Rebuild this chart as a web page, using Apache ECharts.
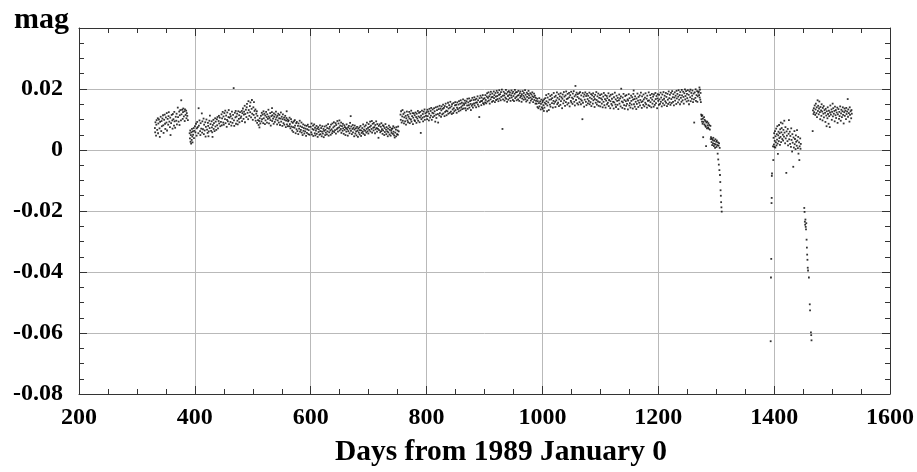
<!DOCTYPE html>
<html>
<head>
<meta charset="utf-8">
<script src="https://cdn.jsdelivr.net/npm/echarts@6/dist/echarts.min.js"></script>
<style>
html,body{margin:0;padding:0;background:#fff;}
#chart{width:917px;height:472px;}
</style>
</head>
<body>
<div id="chart"></div>
<script>
// Days from 1989 January 0 vs magnitude
const run1 = [[331,.0072],[331.5,.0058],[332,.0091],[333,.0047],[333.5,.0083],[334,.0098],[335,.0066],[336,.0104],[336.5,.0055],[337,.0087],[338,.0100],[339,.0071],[339.5,.0043],[340,.0092],[341,.0109],[342,.0062],[342.5,.0095],[343,.0078],[344,.0103],[345,.0114],[345.5,.0081],[346,.0056],[347,.0099],[348,.0116],[348.5,.0086],[349,.0069],[350,.0107],[351,.0090],[351.5,.0121],[352,.0064],[353,.0102],[354,.0083],[354.5,.0111],[355,.0124],[356,.0093],[357,.0075],[357.5,.0106],[358,.0049],[359,.0088],[360,.0115],[361,.0097],[361.5,.0070],[362,.0118],[363,.0101],[364,.0080],[364.5,.0125],[365,.0094],[366,.0073],[367,.0109],[368,.0096],[368.5,.0119],[369,.0084],[370.5,.0139],[371,.0108],[372,.0093],[373,.0126],[373.5,.0082],[374,.0114],[375,.0131],[376,.0097],[376.5,.0163],[377,.0117],[378,.0132],[379,.0102],[379.5,.0124],[380,.0136],[381,.0110],[382,.0127],[382.5,.0095],[383,.0133],[384,.0115],[385,.0129],[385.5,.0104],[386,.0121],[387,.0112],[388,.0098]];

const run2 = [[391,.0055],[391.5,.0038],[392,.0064],[392.5,.0027],[393,.0049],[393.5,.0021],[394,.0058],[394.5,.0033],[395,.0069],[395.5,.0044],[396,.0025],[396.5,.0061],[397,.0050],[398,.0072],[398.5,.0039],[399,.0063],[400,.0078],
[401,.0058],[402,.0086],[403,.0047],[403.5,.0071],[404,.0092],[405,.0075],[406,.0055],[406.5,.0137],[407,.0080],[408,.0097],[409,.0062],[409.5,.0049],[410,.0088],[411,.0070],[412,.0120],[412.5,.0057],[413,.0094],[414,.0068],[415,.0103],[415.5,.0052],[416,.0083],[417,.0064],[418,.0091],[418.5,.0044],[419,.0076],[420,.0100],[421,.0067],[422,.0056],[422.5,.0089],[423,.0079],[423.5,.0045],[424,.0061],[425,.0096],[425.5,.0072],[426,.0113],[427,.0085],[428,.0063],[429,.0094],[429.5,.0074],[430,.0058],[430.5,.0043],[431,.0082],[432,.0099],[432.5,.0069],[433,.0088],[434,.0062],[435,.0104],[435.5,.0077],[436,.0093],[437,.0066],[438,.0101],[438.5,.0081],[439,.0108],[440,.0071],[441,.0095],[441.5,.0112],[442,.0087],[443,.0106],[444,.0078],
[445,.0092],[446,.0117],[446.5,.0081],[447,.0104],[448,.0125],[449,.0090],[449.5,.0110],[450,.0083],[451,.0121],[452,.0101],[452.5,.0129],[453,.0088],[454,.0113],[455,.0076],[455.5,.0099],[456,.0123],[457,.0094],[458,.0108],[458.5,.0131],[459,.0085],[460,.0106],[461,.0118],[461.5,.0092],[462,.0111],[463,.0080],[464,.0126],[464.5,.0103],[465,.0089],[466,.0115],[467,.0203],[467.5,.0097],[468,.0079],[469,.0122],[470,.0107],[470.5,.0128],[471,.0086],[472,.0110],[473,.0119],[473.5,.0096],[474,.0084],[475,.0127],[476,.0102],[476.5,.0114],[477,.0091],[478,.0124],[479,.0105],
[480,.0110],[481,.0128],[481.5,.0095],[482,.0121],[483,.0136],[484,.0102],[484.5,.0116],[485,.0126],[486,.0145],[486.5,.0091],[487,.0118],[488,.0132],[489,.0108],[489.5,.0140],[490,.0151],[491,.0122],[492,.0101],[492.5,.0160],[493,.0131],[494,.0112],[495,.0144],[495.5,.0124],[496,.0156],[497,.0107],[498,.0135],[498.5,.0164],[499,.0119],[500,.0099],[501,.0140],[501.5,.0115],[502,.0157],[503,.0128],[504,.0106],[504.5,.0133],[505,.0096],[506,.0119],[507,.0127],[507.5,.0089],[508,.0112],[509,.0098],[510,.0082],[511,.0095],[511.5,.0074],[512,.0104],[513,.0087],
[514,.0112],[515,.0094],[515.5,.0122],[516,.0101],[517,.0116],[518,.0088],[518.5,.0127],[519,.0104],[520,.0119],[521,.0085],[521.5,.0113],[522,.0097],[523,.0125],[524,.0108],[524.5,.0090],[525,.0117],[526,.0102],[527,.0132],[527.5,.0110],[528,.0087],[529,.0105],[530,.0121],[530.5,.0098],[531,.0080],[532,.0111],[533,.0124],[533.2,.0137],[533.5,.0095],[534,.0114],[535,.0103],[536,.0086],[536.5,.0120],[537,.0109],[538,.0092],[539,.0116],[539.5,.0100],[540,.0126],[541,.0107],[542,.0084],[542.5,.0112],[543,.0097],[544,.0119],[545,.0090],[545.5,.0104],[546,.0115],[547,.0082],[548,.0103],[548.5,.0123],[549,.0093],[550,.0109],[551,.0079],[551.5,.0101],[552,.0117],[553,.0088],[554,.0106],[554.5,.0083],[555,.0099],[556,.0112],[557,.0075],[557.5,.0096],[558,.0105],[558.5,.0127],[559,.0084],[560,.0100],[560.5,.0078],[561,.0094],
[562,.0097],[563,.0078],[563.5,.0106],[564,.0085],[565,.0071],[566,.0101],[566.5,.0077],[567,.0093],[568,.0064],[569,.0089],[569.5,.0075],[570,.0059],[571,.0094],[572,.0073],[572.5,.0098],[573,.0080],[574,.0055],[575,.0088],[575.5,.0068],[576,.0092],[577,.0062],[578,.0079],[578.5,.0052],[579,.0087],[580,.0070],[581,.0096],[581.5,.0060],[582,.0078],[583,.0066],[584,.0090],[584.5,.0057],[585,.0075],[586,.0049],[587,.0084],[587.5,.0063],[588,.0072],[589,.0054],[590,.0081],[590.5,.0061],[591,.0070],[592,.0046],[593,.0079],[593.5,.0056],[594,.0068],[595,.0083],[596,.0052],[596.5,.0065],[597,.0076],[598,.0050]];

const run3 = [[600,.0076],[601,.0058],[601.5,.0087],[602,.0051],[603,.0069],[604,.0080],[604.5,.0046],[605,.0066],[606,.0084],[607,.0055],[607.5,.0073],[608,.0048],[609,.0064],[610,.0079],[610.5,.0053],[611,.0070],[612,.0043],[613,.0075],[613.5,.0059],[614,.0068],[615,.0050],[616,.0081],[616.5,.0062],[617,.0052],[618,.0072],[619,.0045],[619.5,.0060],[620,.0078],[621,.0054],[622,.0069],[622.5,.0042],[623,.0063],[624,.0077],[625,.0049],[625.5,.0066],[626,.0057],[627,.0080],[628,.0051],[628.5,.0072],[629,.0061],[630,.0085],[631,.0047],[631.5,.0070],[632,.0058],[633,.0076],[634,.0064],[634.5,.0050],[635,.0083],[636,.0068],[637,.0055],[637.5,.0087],[638,.0062],[639,.0074],[640,.0091],[640.5,.0059],[641,.0078],[642,.0065],[643,.0088],[643.5,.0054],[644,.0082],[645,.0068],[646,.0095],[646.5,.0072],[647,.0060],[648,.0087],[649,.0074],[649.5,.0097],[650,.0064],[651,.0080],
[652,.0069],[652.5,.0090],[653,.0056],[654,.0078],[655,.0063],[655.5,.0086],[656,.0071],[657,.0053],[658,.0081],[658.5,.0066],[659,.0075],[660,.0049],[661,.0072],[661.5,.0060],[662,.0084],[663,.0068],[664,.0047],[664.5,.0074],[665,.0062],[666,.0079],[667,.0055],[667.5,.0070],[668,.0089],[669,.0111],[669.5,.0063],[670,.0077],[671,.0052],[672,.0069],[672.5,.0082],[673,.0058],[674,.0073],[675,.0045],[675.5,.0067],[676,.0080],[677,.0054],[678,.0071],[678.5,.0061],[679,.0048],[680,.0076],[681,.0063],[681.5,.0043],[682,.0070],[683,.0057],[684,.0074],[684.5,.0051],[685,.0065],[686,.0079],[687,.0046],[687.5,.0064],[688,.0056],[689,.0072],[690,.0060],[690.5,.0084],[691,.0053],[692,.0067],[693,.0077],[693.5,.0049],[694,.0063],[695,.0081],[696,.0057],[696.5,.0069],[697,.0090],[698,.0061],[699,.0073],[699.5,.0054],[700,.0085],[701,.0066],[702,.0076],[702.5,.0093],[703,.0061],[704,.0080],[705,.0069],[705.5,.0095],[706,.0057],[707,.0086],[708,.0073],[708.5,.0064],[709,.0089],[710,.0075],[711,.0055],[711.5,.0082],[712,.0068],[713,.0094],[714,.0072],[714.5,.0060],[715,.0085],[716,.0069],[717,.0040],[717.5,.0079],[718,.0065],[719,.0084],[720,.0058],
[721,.0076],[721.5,.0062],[722,.0088],[723,.0068],[724,.0053],[724.5,.0081],[725,.0064],[726,.0078],[727,.0049],[727.5,.0072],[728,.0059],[729,.0085],[730,.0067],[730.5,.0052],[731,.0075],[732,.0061],[733,.0045],[733.5,.0070],[734,.0058],[735,.0080],[736,.0051],[736.5,.0066],[737,.0074],[738,.0047],[739,.0063],[739.5,.0056],[740,.0069],[741,.0071],[742,.0053],[742.5,.0078],[743,.0060],[744,.0048],[744.5,.0073],[745,.0041],[746,.0057],[747,.0067],[747.5,.0045],[748,.0075],[749,.0052],[750,.0064],[750.5,.0050],[751,.0077],[752,.0061]];

const run4 = [[755,.0116],[755.5,.0099],[756,.0127],[757,.0090],[758,.0110],[758.5,.0131],[759,.0096],[760,.0118],[761,.0087],[761.5,.0107],[762,.0123],[763,.0094],[764,.0112],[764.5,.0083],[765,.0104],[766,.0126],[767,.0097],[767.5,.0115],[768,.0091],[769,.0109],[770,.0125],[770.5,.0103],[771,.0088],[772,.0119],[773,.0100],[773.5,.0129],[774,.0093],[775,.0111],[776,.0121],[776.5,.0085],[777,.0106],[778,.0120],[779,.0098],[779.5,.0114],
[780,.0095],[781,.0123],[782,.0108],[782.5,.0089],[783,.0119],[784,.0103],[785,.0128],[785.5,.0096],[786,.0110],[787,.0122],[788,.0091],[788.5,.0107],[789,.0125],[790,.0056],[790.5,.0113],[791,.0101],[792,.0129],[793,.0106],[793.5,.0118],[794,.0094],[795,.0126],[796,.0109],[796.5,.0133],[797,.0099],[798,.0120],[799,.0112],
[800,.0124],[801,.0101],[801.5,.0132],[802,.0111],[803,.0126],[804,.0097],[804.5,.0119],[805,.0135],[806,.0106],[807,.0128],[807.5,.0113],[808,.0138],[809,.0099],[810,.0122],[810.5,.0133],[811,.0108],[812,.0120],[813,.0137],[813.5,.0112],[814,.0127],[815,.0093],[816,.0140],[816.5,.0116],[817,.0105],[818,.0131],[819,.0142],[819.5,.0118],[820,.0090],[821,.0134],[822,.0113],[822.5,.0145],[823,.0121],[824,.0136],[825,.0109],[825.5,.0130],[826,.0143],[827,.0117],[828,.0135],[828.5,.0149],[829,.0120],[830,.0138],[831,.0111],[831.5,.0144],[832,.0125],[833,.0152],[834,.0129],[834.5,.0114],[835,.0141],[836,.0127],[837,.0155],[837.5,.0119],[838,.0136],[839,.0147],[840,.0122],[840.5,.0139],[841,.0158],[842,.0126],[843,.0143],[843.5,.0118],[844,.0150],[845,.0133],[846,.0121],[846.5,.0154],[847,.0137],[848,.0127],[849,.0146],[849.5,.0157],
[850,.0131],[851,.0148],[852,.0122],[852.5,.0139],[853,.0156],[854,.0134],[855,.0149],[855.5,.0127],[856,.0160],[857,.0138],[858,.0152],[858.5,.0130],[859,.0163],[860,.0141],[861,.0155],[861.5,.0134],[862,.0146],[863,.0166],[864,.0136],[864.5,.0153],[865,.0148],[866,.0162],[867,.0137],[867.5,.0154],[868,.0130],[869,.0160],[870,.0146],[870.5,.0168],[871,.0135],[872,.0156],[873,.0147],[873.5,.0169],[874,.0139],[875,.0160],[876,.0151],[876.5,.0131],[877,.0163],[878,.0145],[879,.0171],[879.5,.0150],[880,.0139],[881,.0164],[882,.0153],[882.5,.0173],[883,.0146],[884,.0165],[885,.0155],[885.5,.0140],[886,.0168],[887,.0156],[888,.0176],[888.5,.0149],[889,.0163],[890,.0143],[891,.0108],[891.5,.0170],[892,.0157],[893,.0178],[894,.0160],[894.5,.0147],[895,.0172],[896,.0161],[897,.0180],[897.5,.0154],[898,.0167],[899,.0150],
[900,.0170],[901,.0156],[901.5,.0180],[902,.0164],[903,.0153],[904,.0175],[904.5,.0186],[905,.0159],[906,.0171],[907,.0189],[907.5,.0162],[908,.0176],[909,.0152],[910,.0182],[910.5,.0166],[911,.0191],[912,.0173],[913,.0158],[913.5,.0185],[914,.0174],[915,.0161],[916,.0192],[916.5,.0170],[917,.0180],[918,.0157],[919,.0187],[919.5,.0175],[920,.0164],[921,.0194],[922,.0177],[922.5,.0167],[923,.0188],[924,.0160],[925,.0181],[925.5,.0196],[926,.0169],[927,.0183],[928,.0163],[928.5,.0190],[929,.0174],[930,.0198],[931,.0069],[931.5,.0178],[932,.0166],[933,.0191],[934,.0179],[934.5,.0162],[935,.0186],[936,.0172],[937,.0197],[937.5,.0168],[938,.0184],[939,.0158],[940,.0190],[940.5,.0177],[941,.0165],[942,.0193],[943,.0181],[943.5,.0170],[944,.0188],[945,.0161],[946,.0179],[946.5,.0195],[947,.0172],[948,.0186],[949,.0164],[949.5,.0191],[950,.0177],[951,.0160],[952,.0184],[952.5,.0197],[953,.0170],[954,.0189],[955,.0174],[955.5,.0163],[956,.0190],[957,.0178],[958,.0166],[958.5,.0194],[959,.0180],[960,.0161],[961,.0186],[961.5,.0172],[962,.0192],[963,.0177],[964,.0158],[964.5,.0183],[965,.0169],[966,.0193],[967,.0178],[967.5,.0165],[968,.0187],[969,.0173],[970,.0196],[970.5,.0167],[971,.0181],[972,.0159],[973,.0188],[973.5,.0174],[974,.0163],[975,.0184],[976,.0194],[976.5,.0170],[977,.0179],[978,.0155],[979,.0186],[979.5,.0172],[980,.0162],[981,.0182],[982,.0167],[982.5,.0189],[983,.0176],[984,.0157],[985,.0173],[985.5,.0185],[986,.0164],[987,.0178],[988,.0152],[988.5,.0171],[989,.0161],
[990,.0152],[991,.0168],[991.5,.0141],[992,.0160],[993,.0137],[994,.0154],[994.5,.0170],[995,.0143],[996,.0159],[997,.0133],[997.5,.0151],[998,.0165],[999,.0140],[1000,.0157],[1000.5,.0135],[1001,.0162],[1002,.0147],[1002.5,.0128],[1003,.0166],[1003.5,.0139],[1004,.0155]];

const run5 = [[1005,.0170],[1006,.0151],[1006.5,.0180],[1007,.0160],[1008,.0127],[1008.5,.0146],[1009,.0172],[1010,.0156],[1010.5,.0184],[1011,.0131],[1012,.0165],[1013,.0149],[1013.5,.0177],[1014,.0142],[1015,.0166],[1016,.0181],[1016.5,.0154],[1017,.0170],[1018,.0139],[1019,.0161],[1019.5,.0187],[1020,.0152],[1021,.0174],[1022,.0158],[1022.5,.0141],[1023,.0178],[1024,.0163],[1025,.0189],[1025.5,.0150],[1026,.0171],[1027,.0155],[1028,.0183],[1028.5,.0144],[1029,.0166],[1030,.0176],[1031,.0148],[1031.5,.0186],[1032,.0160],[1033,.0173],[1034,.0137],[1034.5,.0168],[1035,.0182],[1036,.0153],[1037,.0190],[1037.5,.0162],[1038,.0175],[1039,.0145],[1040,.0179],[1040.5,.0157],[1041,.0192],[1042,.0167],[1043,.0149],[1043.5,.0184],[1044,.0169],[1045,.0154],[1046,.0187],[1046.5,.0173],[1047,.0143],[1048,.0180],[1049,.0161],[1049.5,.0191],[1050,.0156],[1051,.0172],[1052,.0151],[1052.5,.0185],[1053,.0168],[1054,.0193],[1055,.0158],[1055.5,.0176],[1056,.0146],[1057,.0210],[1057.5,.0181],[1058,.0164],[1059,.0188],[1060,.0153],[1060.5,.0174],[1061,.0183],[1062,.0149],[1063,.0169],[1063.5,.0186],[1064,.0157],[1065,.0190],[1066,.0166],[1066.5,.0150],[1067,.0179],[1068,.0162],[1069,.0101],[1069.5,.0187],[1070,.0155],[1071,.0175],[1072,.0142],[1072.5,.0182],[1073,.0165],[1074,.0189],[1075,.0158],[1075.5,.0177],[1076,.0147],[1077,.0184],[1078,.0167],[1078.5,.0153],[1079,.0178],[1080,.0161],[1081,.0188],[1081.5,.0150],[1082,.0172],[1083,.0157],[1084,.0183],[1084.5,.0144],[1085,.0168],[1086,.0179],[1087,.0152],[1087.5,.0186],[1088,.0163],[1089,.0174],[1090,.0141],[1090.5,.0167],[1091,.0181],[1092,.0155],[1093,.0190],[1093.5,.0164],[1094,.0149],[1095,.0176],[1096,.0159],[1096.5,.0185],[1097,.0145],[1098,.0171],[1099,.0157],[1099.5,.0180],[1100,.0143],
[1101,.0169],[1102,.0183],[1102.5,.0152],[1103,.0165],[1104,.0140],[1105,.0175],[1105.5,.0158],[1106,.0187],[1107,.0147],[1108,.0167],[1108.5,.0180],[1109,.0139],[1110,.0162],[1111,.0177],[1111.5,.0150],[1112,.0170],[1113,.0155],[1114,.0186],[1114.5,.0144],[1115,.0164],[1116,.0176],[1117,.0137],[1117.5,.0160],[1118,.0181],[1119,.0151],[1120,.0168],[1120.5,.0146],[1121,.0183],[1122,.0158],[1123,.0136],[1123.5,.0173],[1124,.0156],[1125,.0188],[1126,.0149],[1126.5,.0166],[1127,.0141],[1128,.0178],[1129,.0161],[1129.5,.0148],[1130,.0171],[1131,.0134],[1132,.0163],[1132.5,.0182],[1133,.0152],[1134,.0169],[1135,.0143],[1135.5,.0176],[1136,.0201],[1137,.0159],[1138,.0138],[1138.5,.0172],[1139,.0156],[1140,.0184],[1141,.0147],[1141.5,.0164],[1142,.0135],[1143,.0177],[1144,.0160],[1144.5,.0145],[1145,.0180],[1146,.0151],[1147,.0166],[1147.5,.0133],[1148,.0162],[1149,.0183],[1150,.0146],[1150.5,.0170],[1151,.0154],[1152,.0139],[1153,.0178],[1153.5,.0161],[1154,.0149],[1155,.0173],[1156,.0136],[1156.5,.0165],[1157,.0184],[1157.5,.0195],[1158,.0150],[1159,.0167],[1159.5,.0142],[1160,.0176],[1161,.0158],[1162,.0134],[1162.5,.0169],[1163,.0151],[1164,.0185],[1165,.0162],[1165.5,.0141],[1166,.0174],[1167,.0155],[1168,.0179],[1168.5,.0146],[1169,.0164],[1170,.0188],[1171,.0157],[1171.5,.0138],[1172,.0176],[1173,.0160],[1174,.0148],[1174.5,.0182],[1175,.0166],[1176,.0143],[1177,.0172],[1177.5,.0155],[1178,.0186],[1179,.0150],[1180,.0168],[1180.5,.0139],[1181,.0178],[1182,.0161],[1183,.0147],[1183.5,.0189],[1184,.0163],[1185,.0144],[1186,.0180],[1186.5,.0157],[1187,.0171],[1188,.0140],[1189,.0184],[1189.5,.0165],[1190,.0152],[1191,.0175],[1192,.0142],[1192.5,.0182],[1193,.0160],[1194,.0148],[1195,.0187],[1195.5,.0167],[1196,.0154],[1197,.0177],[1198,.0137],[1198.5,.0169],[1199,.0183],
[1200,.0161],[1201,.0148],[1201.5,.0181],[1202,.0166],[1203,.0151],[1204,.0188],[1204.5,.0158],[1205,.0172],[1206,.0143],[1207,.0182],[1207.5,.0164],[1208,.0153],[1209,.0190],[1210,.0168],[1210.5,.0147],[1211,.0178],[1212,.0160],[1213,.0187],[1213.5,.0155],[1214,.0174],[1215,.0144],[1216,.0184],[1216.5,.0165],[1217,.0151],[1218,.0192],[1219,.0170],[1219.5,.0156],[1220,.0181],[1221,.0148],[1222,.0187],[1222.5,.0167],[1223,.0154],[1224,.0193],[1225,.0173],[1225.5,.0158],[1226,.0183],[1227,.0146],[1228,.0172],[1228.5,.0189],[1229,.0162],[1230,.0178],[1231,.0151],[1231.5,.0194],[1232,.0169],[1233,.0184],[1234,.0156],[1234.5,.0175],[1235,.0196],[1236,.0165],[1237,.0180],[1237.5,.0150],[1238,.0190],[1239,.0171],[1240,.0158],[1240.5,.0197],[1241,.0179],[1242,.0163],[1243,.0191],[1243.5,.0174],[1244,.0152],[1245,.0186],[1246,.0199],[1246.5,.0166],[1247,.0177],[1248,.0193],[1249,.0159],[1249.5,.0184],[1250,.0170],[1251,.0196],[1252,.0162],[1252.5,.0181],[1253,.0150],[1254,.0192],[1255,.0173],[1255.5,.0198],[1256,.0160],[1257,.0187],[1258,.0168],[1258.5,.0178],[1259,.0195],[1260,.0157],[1261,.0185],[1261.5,.0166],[1262,.0090],[1263,.0189],[1264,.0171],[1264.5,.0199],[1265,.0161],[1266,.0180],[1267,.0193],[1267.5,.0158],[1268,.0176],[1269,.0188]];

const fade1 = [[1270,.0192],[1270.5,.0180],[1271,.0205],[1271.5,.0172],[1272,.0198],[1272.5,.0165],[1273,.0187],[1273.5,.0157],[1274,.0116],[1274.5,.0101],[1275,.0111],[1275.5,.0093],[1276,.0114],[1276.5,.0086],[1277,.0103],[1277.5,.0042],[1278,.0092],[1279,.0108],[1279.5,.0084],[1280,.0099],[1281,.0080],[1281.5,.0095],[1282,.0076],[1282.5,.0013],[1283,.0090],[1284,.0071],[1284.5,.0093],[1285,.0081],[1286,.0074],[1286.5,.0088],[1287,.0070],[1288,.0082],[1289,.0067],[1290,.0079],[1290.5,.0036],[1291,.0042],[1292,.0026],[1292.5,.0037],[1293,.0016],[1294,.0033],[1294.5,.0022],[1295,.0040],[1296,.0013],[1296.5,.0030],[1297,.0020],[1298,.0007],[1298.5,.0035],[1299,.0018],[1300,.0027],[1300.5,.0010],[1301,.0031],[1302,.0016],[1302.5,-.0012],[1303,.0025],[1303.5,-.0031],[1304,.0014],[1304.5,-.0048],[1305,.0022],[1305.5,-.0066],[1306,.0007],[1306.5,-.0082],[1307,-.0105],[1307.5,-.0132],[1308,-.0150],[1308.5,-.0171],[1309,-.0188],[1309.5,-.0202]];

const dip2 = [[1394,-.0627],[1394.5,-.0418],[1395,-.0357],[1395.5,-.0174],[1395.8,-.0157],[1396,-.0085],[1396.3,-.0077],
[1398,.0012],[1398.5,-.0033],[1399,.0040],[1399.5,.0018],[1400,.0055],[1400.5,.0010],[1401,.0030],[1401.5,.0062],[1402,.0008],[1402.5,.0045],[1403,.0025],[1403.5,.0070],[1404,.0015],[1404.5,.0052],[1405,.0034],[1405.5,.0078],[1406,.0021],[1406.5,-.0013],[1407,.0048],[1407.5,.0060],[1408,.0029],[1408.5,.0082],[1409,.0039],[1409.5,.0055],[1410,.0017],[1410.5,.0068],[1411,.0043],[1411.5,.0090],[1412,.0026],[1412.5,.0058],[1413,.0072],[1414,.0036],[1414.5,.0087],[1415,.0050],[1415.5,.0031],[1416,.0066],[1417,.0044],[1417.5,.0096],[1418,.0057],[1419,.0022],[1419.5,.0075],[1420,.0038],[1421,-.0075],[1421.5,.0061],[1422,.0047],[1423,.0029],[1423.5,.0069],[1424,.0015],[1425,.0053],[1425.5,.0098],[1426,.0035],[1427,.0060],[1427.5,.0020],[1428,.0046],[1429,.0010],[1429.5,.0071],[1430,.0033],[1431,-.0005],[1431.5,.0052],[1432,.0024],[1433,-.0055],[1433.5,.0041],[1434,.0008],[1435,.0062],[1435.5,.0019],[1436,.0036],[1437,.0003],[1437.5,.0048],[1438,.0027],[1439,.0014],[1439.5,.0065],[1440,.0031],[1441,.0006],[1441.5,.0043],[1442,-.0012],[1443,.0025],[1443.5,-.0033],[1444,.0012],[1445,.0038],[1445.5,.0004],[1446,.0020],
[1452,-.0190],[1452.5,-.0203],[1453,-.0235],[1453.5,-.0245],[1454,-.0228],[1454.5,-.0252],[1455,-.0260],[1455.5,-.0240],[1456,-.0294],[1456.5,-.0320],[1457,-.0343],[1457.5,-.0360],[1458,-.0386],[1458.5,-.0395],[1460,-.0418],[1461.5,-.0506],[1462,-.0526],[1463.5,-.0598],[1464,-.0607],[1464.5,-.0624]];

const late = [[1466.5,.0062],[1467,.0130],[1468,.0118],[1468.5,.0137],[1469,.0124],[1470,.0146],[1471,.0115],[1471.5,.0133],[1472,.0152],[1473,.0121],[1473.5,.0140],[1474,.0108],[1475,.0163],[1475.5,.0128],[1476,.0145],[1477,.0117],[1477.5,.0136],[1478,.0159],[1479,.0124],[1479.5,.0101],[1480,.0141],[1481,.0130],[1481.5,.0112],[1482,.0150],[1483,.0126],[1483.5,.0097],[1484,.0138],[1485,.0119],[1485.5,.0144],[1486,.0107],[1487,.0131],[1488,.0122],[1488.5,.0092],[1489,.0135],[1490,.0113],[1490.5,.0078],[1491,.0127],[1492,.0104],[1492.5,.0140],[1493,.0118],[1494,.0086],[1494.5,.0129],[1495,.0111],[1496,.0075],[1496.5,.0123],[1497,.0146],[1498,.0116],[1499,.0133],[1499.5,.0099],[1500,.0125],[1501,.0152],[1501.5,.0110],[1502,.0137],[1503,.0119],[1504,.0128],[1504.5,.0094],[1505,.0142],[1506,.0114],[1506.5,.0131],[1507,.0105],[1508,.0123],[1509,.0139],[1509.5,.0089],[1510,.0117],[1511,.0134],[1512,.0102],[1512.5,.0125],[1513,.0111],[1514,.0143],[1515,.0096],[1515.5,.0120],[1516,.0132],[1517,.0108],[1518,.0127],[1518.5,.0140],[1519,.0115],[1520,.0087],[1521,.0124],[1521.5,.0136],[1522,.0112],[1523,.0129],[1524,.0101],[1524.5,.0138],[1525,.0118],[1526,.0126],[1527,.0167],[1527.5,.0109],[1528,.0133],[1529,.0121],[1530,.0093],[1530.5,.0140],[1531,.0115],[1532,.0127],[1533,.0104],[1533.5,.0131],[1534,.0119]];

const xName = 'Days from 1989 January 0';
const yName = 'mag';

const points = [].concat(run1, run2, run3, run4, run5, fade1, dip2, late);

const FONT = '"Liberation Serif", "Times New Roman", serif';
const chart = echarts.init(document.getElementById('chart'), null, {renderer: 'canvas'});

const gridColor = '#b9b9b9';
const axisColor = '#333';

function yFmt(v) {
  if (Math.abs(v - 0.04) < 1e-9) return '';
  if (Math.abs(v) < 1e-9) return '0';
  return v.toFixed(2);
}
function xFmt(v) { return String(v); }

const baseX = {
  type: 'value', min: 200, max: 1600, interval: 200,
  axisLine: {show: true, onZero: false, lineStyle: {color: axisColor, width: 1}},
  axisTick: {show: true, inside: true, length: 8, lineStyle: {color: axisColor}},
  minorTick: {show: true, splitNumber: 4, length: 5, lineStyle: {color: axisColor}}
};
const baseY = {
  type: 'value', min: -0.08, max: 0.04, interval: 0.02,
  axisLine: {show: true, onZero: false, lineStyle: {color: axisColor, width: 1}},
  axisTick: {show: true, inside: true, length: 8, lineStyle: {color: axisColor}},
  minorTick: {show: true, splitNumber: 4, length: 5, lineStyle: {color: axisColor}}
};

chart.setOption({
  animation: false,
  backgroundColor: '#fff',
  grid: {left: 79, right: 27, top: 28, bottom: 77, containLabel: false},
  xAxis: [
    Object.assign({}, baseX, {
      position: 'bottom',
      name: xName, nameLocation: 'middle', nameGap: 43,
      nameTextStyle: {fontFamily: FONT, fontWeight: 'bold', fontSize: 29.5, color: '#000', padding: [0, 0, 0, 33]},
      axisLabel: {fontFamily: FONT, fontWeight: 'bold', fontSize: 24, color: '#000', margin: 12, formatter: xFmt},
      splitLine: {show: true, lineStyle: {color: gridColor, width: 1}}
    }),
    Object.assign({}, baseX, {
      position: 'top',
      axisLabel: {show: false},
      splitLine: {show: false}
    })
  ],
  yAxis: [
    Object.assign({}, baseY, {
      position: 'left',
      name: yName, nameLocation: 'end', nameGap: 8,
      nameTextStyle: {fontFamily: FONT, fontWeight: 'bold', fontSize: 30, color: '#000', align: 'right', verticalAlign: 'middle', padding: [0, 10, 0, 0]},
      axisLabel: {fontFamily: FONT, fontWeight: 'bold', fontSize: 24, color: '#000', margin: 16, formatter: yFmt},
      splitLine: {show: true, lineStyle: {color: gridColor, width: 1}}
    }),
    Object.assign({}, baseY, {
      position: 'right',
      axisLabel: {show: false},
      splitLine: {show: false}
    })
  ],
  series: [{
    type: 'scatter',
    xAxisIndex: 0, yAxisIndex: 0,
    symbol: 'rect',
    symbolSize: 1.8,
    itemStyle: {color: '#000'},
    data: points,
    silent: true
  }]
});
</script>
</body>
</html>
